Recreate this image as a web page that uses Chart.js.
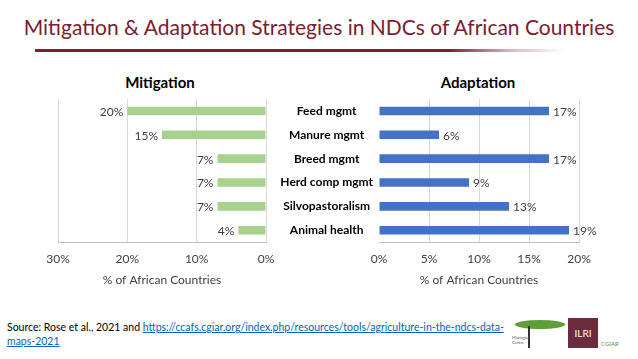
<!DOCTYPE html>
<html>
<head>
<meta charset="utf-8">
<script src="https://cdn.jsdelivr.net/npm/chart.js@4"></script>
<style>
  body { margin: 0; width: 638px; height: 359px; background: #fff; position: relative; overflow: hidden; font-family: Lato, sans-serif; }
  #title { position: absolute; left: 0; width: 638px; top: 14px; text-align: center; font-size: 21px; color: #7b2030; white-space: nowrap; }
  #brush { position: absolute; left: 35px; top: 49px; width: 530px; height: 3px;
    background: linear-gradient(to right, #7b2030 0%, #7b2030 78%, rgba(123,32,48,0.3) 90%, rgba(123,32,48,0) 100%); }
  canvas { position: absolute; top: 62px; }
  .sub { position: absolute; top: 73px; width: 160px; margin-left: -80px; text-align: center; font-size: 15px; font-weight: bold; color: #000; }
  #source { position: absolute; left: 7px; top: 320px; font-size: 10.5px; line-height: 14px; color: #000; width: 506px; }
  #source a { color: #0563c1; }
  #ilri { position: absolute; left: 568px; top: 318px; width: 30px; height: 30px; background: #6b2c3e; color: #fff; font-size: 10px; text-align: center; line-height: 30px; }
  #cgiar { position: absolute; left: 601px; top: 340px; font-size: 6px; color: #5f8f3a; }
  #tree { position: absolute; left: 515px; top: 320px; width: 50px; height: 9px; background: #5f9e37; border-radius: 50%; }
  #trunk { position: absolute; left: 528px; top: 326px; width: 2px; height: 22px; background: #333; }
  #mz { position: absolute; left: 512px; top: 335px; font-size: 4px; color: #555; line-height: 5px; }
</style>
</head>
<body>
<div id="title">Mitigation &amp; Adaptation Strategies in NDCs of African Countries</div>
<div id="brush"></div>
<div class="sub" style="left:160px;">Mitigation</div>
<div class="sub" style="left:478px;">Adaptation</div>
<canvas id="mitChart" width="285" height="229" style="left:0;"></canvas>
<canvas id="adaChart" width="368" height="229" style="left:270px;"></canvas>
<div id="source">Source: Rose et al., 2021 and <a href="#">https://ccafs.cgiar.org/index.php/resources/tools/agriculture-in-the-ndcs-data-maps-2021</a></div>
<div id="tree"></div><div id="trunk"></div>
<div id="mz">Mazingira<br>Centre</div>
<div id="ilri">ILRI</div>
<div id="cgiar">CGIAR</div>
<script>
const categories = ['Feed mgmt', 'Manure mgmt', 'Breed mgmt', 'Herd comp mgmt', 'Silvopastoralism', 'Animal health'];
const mitigationValues = [20, 15, 7, 7, 7, 4];
const adaptationValues = [17, 6, 17, 9, 13, 19];

const FONT = 'Lato, sans-serif';
const gridColor = '#d9d9d9';

// draws "20%" style labels at bar ends
const barLabels = {
    id: 'barLabels',
    afterDatasetsDraw(chart, args, opts) {
        const c = chart.ctx;
        const meta = chart.getDatasetMeta(0);
        c.save();
        c.font = '12px ' + FONT;
        c.fillStyle = '#404040';
        c.textBaseline = 'middle';
        c.textAlign = opts.side === 'left' ? 'right' : 'left';
        meta.data.forEach((bar, i) => {
            const v = chart.data.datasets[0].data[i];
            const x = opts.side === 'left' ? bar.x - 4 : bar.x + 4;
            c.fillText(v + '%', x, bar.y + 1);
        });
        c.restore();
    }
};

const pct = v => v + '%';

new Chart(document.getElementById('mitChart').getContext('2d'), {
    type: 'bar',
    data: {
        labels: categories,
        datasets: [{
            data: mitigationValues,
            backgroundColor: '#a9d18e',
            barPercentage: 0.36,
            categoryPercentage: 1
        }]
    },
    options: {
        indexAxis: 'y',
        responsive: false,
        animation: false,
        layout: { padding: { left: 58, right: 19, top: 37, bottom: 0 } },
        plugins: {
            legend: { display: false },
            tooltip: { enabled: false },
            barLabels: { side: 'left' }
        },
        scales: {
            x: {
                reverse: true, min: 0, max: 30,
                ticks: { stepSize: 10, callback: pct, color: '#404040', font: { family: FONT, size: 12 }, padding: 10 },
                grid: { color: gridColor, drawTicks: false },
                border: { color: '#bfbfbf' },
                title: { display: true, text: '% of African Countries', color: '#404040', font: { family: FONT, size: 12 }, padding: { top: -4 } }
            },
            y: { display: false }
        }
    },
    plugins: [barLabels]
});

new Chart(document.getElementById('adaChart').getContext('2d'), {
    type: 'bar',
    data: {
        labels: categories,
        datasets: [{
            data: adaptationValues,
            backgroundColor: '#4472c4',
            barPercentage: 0.36,
            categoryPercentage: 1
        }]
    },
    options: {
        indexAxis: 'y',
        responsive: false,
        animation: false,
        layout: { padding: { left: 0, right: 59, top: 37, bottom: 0 } },
        plugins: {
            legend: { display: false },
            tooltip: { enabled: false },
            barLabels: { side: 'right' }
        },
        scales: {
            x: {
                min: 0, max: 20,
                ticks: { stepSize: 5, callback: pct, color: '#404040', font: { family: FONT, size: 12 }, padding: 10 },
                grid: { color: ctx => ctx.tick && ctx.tick.value === 0 ? 'rgba(0,0,0,0)' : gridColor, drawTicks: false },
                border: { color: '#bfbfbf' },
                title: { display: true, text: '% of African Countries', color: '#404040', font: { family: FONT, size: 12 }, padding: { top: -4 } }
            },
            y: {
                afterFit(scale) { scale.width = 109; },
                ticks: { crossAlign: 'center', color: '#000', font: { family: FONT, size: 12, weight: 'bold' }, padding: 6 },
                grid: { display: false, drawTicks: false },
                border: { display: false }
            }
        }
    },
    plugins: [barLabels]
});
</script>
</body>
</html>
